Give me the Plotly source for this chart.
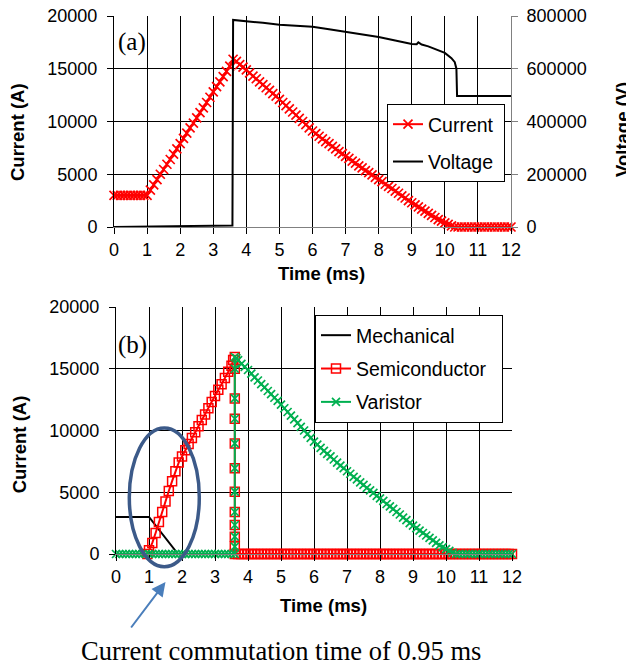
import plotly.graph_objects as go

# ---------------- data ----------------
# (a) total current, time in ms
time_ms = [
    0.0, 0.1, 0.2, 0.3, 0.4, 0.5, 0.6, 0.7, 0.8, 0.9,
    1.0, 1.1, 1.2, 1.3, 1.4, 1.5, 1.6, 1.7, 1.8, 1.9,
    2.0, 2.1, 2.2, 2.3, 2.4, 2.5, 2.6, 2.7, 2.8, 2.9,
    3.0, 3.1, 3.2, 3.3, 3.4, 3.5, 3.6, 3.7, 3.8, 3.9,
    4.0, 4.1, 4.2, 4.3, 4.4, 4.5, 4.6, 4.7, 4.8, 4.9,
    5.0, 5.1, 5.2, 5.3, 5.4, 5.5, 5.6, 5.7, 5.8, 5.9,
    6.0, 6.1, 6.2, 6.3, 6.4, 6.5, 6.6, 6.7, 6.8, 6.9,
    7.0, 7.1, 7.2, 7.3, 7.4, 7.5, 7.6, 7.7, 7.8, 7.9,
    8.0, 8.1, 8.2, 8.3, 8.4, 8.5, 8.6, 8.7, 8.8, 8.9,
    9.0, 9.1, 9.2, 9.3, 9.4, 9.5, 9.6, 9.7, 9.8, 9.9,
    10.0, 10.1, 10.2, 10.3, 10.4, 10.5, 10.6, 10.7, 10.8, 10.9,
    11.0, 11.1, 11.2, 11.3, 11.4, 11.5, 11.6, 11.7, 11.8, 11.9,
    12.0,
]
current_a = [
    3000, 3000, 3000, 3000, 3000, 3000, 3000, 3000, 3000, 3000,
    3000, 3500, 4000, 4500, 5000, 5450, 5950, 6400, 6900, 7400,
    7900, 8400, 8900, 9400, 9850, 10350, 10850, 11300, 11800, 12300,
    12800, 13300, 13750, 14250, 14750, 15250, 15900, 15700, 15400, 15150,
    14900, 14600, 14300, 14050, 13750, 13500, 13200, 12950, 12650, 12400,
    12100, 11800, 11500, 11200, 10900, 10600, 10300, 10000, 9700, 9400,
    9100, 8850, 8600, 8350, 8100, 7900, 7650, 7400, 7150, 6950,
    6700, 6500, 6250, 6050, 5800, 5600, 5350, 5150, 4950, 4700,
    4500, 4300, 4050, 3850, 3650, 3400, 3200, 2950, 2750, 2500,
    2300, 2100, 1900, 1700, 1500, 1300, 1100, 900, 700, 550,
    400, 250, 100, 0, 0, 0, 0, 0, 0, 0,
    0, 0, 0, 0, 0, 0, 0, 0, 0, 0,
    0,
]

# (a) voltage
voltage_time = [0.0, 1.0, 2.0, 3.0, 3.58, 3.6, 4.0, 4.5, 5.0, 5.5, 6.0, 6.5, 7.0,
                7.5, 8.0, 8.5, 9.0, 9.15, 9.2, 9.3, 9.5, 10.0, 10.2, 10.3, 10.35,
                10.37, 12.0]
voltage_v = [0, 1500, 4000, 5000, 6000, 785000, 779000, 774000, 767000, 764000,
             759000, 750000, 740000, 731000, 720000, 707000, 694000, 693000,
             700000, 692000, 685000, 660000, 640000, 625000, 600000, 497000,
             497000]

# (b) mechanical switch current
mech_time = [0.0, 1.0, 1.88, 12.0]
mech_current = [3000, 3000, 0, 0]

# (b) semiconductor current
semi_time = [
    0.95, 1.0, 1.1, 1.2, 1.3, 1.4, 1.5, 1.6, 1.7, 1.8, 1.9,
    2.0, 2.1, 2.2, 2.3, 2.4, 2.5, 2.6, 2.7, 2.8, 2.9,
    3.0, 3.1, 3.2, 3.3, 3.4, 3.5, 3.55,
    3.6, 3.6, 3.6, 3.6, 3.6, 3.6, 3.6, 3.6, 3.6, 3.6, 3.6, 3.6,
    3.7, 3.8, 3.9,
    4.0, 4.1, 4.2, 4.3, 4.4, 4.5, 4.6, 4.7, 4.8, 4.9,
    5.0, 5.1, 5.2, 5.3, 5.4, 5.5, 5.6, 5.7, 5.8, 5.9,
    6.0, 6.1, 6.2, 6.3, 6.4, 6.5, 6.6, 6.7, 6.8, 6.9,
    7.0, 7.1, 7.2, 7.3, 7.4, 7.5, 7.6, 7.7, 7.8, 7.9,
    8.0, 8.1, 8.2, 8.3, 8.4, 8.5, 8.6, 8.7, 8.8, 8.9,
    9.0, 9.1, 9.2, 9.3, 9.4, 9.5, 9.6, 9.7, 9.8, 9.9,
    10.0, 10.1, 10.2, 10.3, 10.4, 10.5, 10.6, 10.7, 10.8, 10.9,
    11.0, 11.1, 11.2, 11.3, 11.4, 11.5, 11.6, 11.7, 11.8, 11.9,
    12.0,
]
semi_current = [
    0, 300, 900, 1700, 2600, 3400, 4250, 5100, 5900, 6700, 7400,
    7900, 8400, 8900, 9400, 9850, 10350, 10850, 11300, 11800, 12300,
    12800, 13300, 13750, 14250, 14750, 15250, 15700,
    15950, 15000, 12600, 10950, 8950, 6950, 5050, 3400, 2350, 1400, 600, 0,
    0, 0, 0,
    0, 0, 0, 0, 0, 0, 0, 0, 0, 0,
    0, 0, 0, 0, 0, 0, 0, 0, 0, 0,
    0, 0, 0, 0, 0, 0, 0, 0, 0, 0,
    0, 0, 0, 0, 0, 0, 0, 0, 0, 0,
    0, 0, 0, 0, 0, 0, 0, 0, 0, 0,
    0, 0, 0, 0, 0, 0, 0, 0, 0, 0,
    0, 0, 0, 0, 0, 0, 0, 0, 0, 0,
    0, 0, 0, 0, 0, 0, 0, 0, 0, 0,
    0,
]

# (b) varistor current
var_time = [
    0.0, 0.1, 0.2, 0.3, 0.4, 0.5, 0.6, 0.7, 0.8, 0.9,
    1.0, 1.1, 1.2, 1.3, 1.4, 1.5, 1.6, 1.7, 1.8, 1.9,
    2.0, 2.1, 2.2, 2.3, 2.4, 2.5, 2.6, 2.7, 2.8, 2.9,
    3.0, 3.1, 3.2, 3.3, 3.4, 3.5,
    3.6, 3.6, 3.6, 3.6, 3.6, 3.6, 3.6, 3.6, 3.6, 3.6, 3.6, 3.6,
    3.65, 3.7, 3.8, 3.9,
    4.0, 4.1, 4.2, 4.3, 4.4, 4.5, 4.6, 4.7, 4.8, 4.9,
    5.0, 5.1, 5.2, 5.3, 5.4, 5.5, 5.6, 5.7, 5.8, 5.9,
    6.0, 6.1, 6.2, 6.3, 6.4, 6.5, 6.6, 6.7, 6.8, 6.9,
    7.0, 7.1, 7.2, 7.3, 7.4, 7.5, 7.6, 7.7, 7.8, 7.9,
    8.0, 8.1, 8.2, 8.3, 8.4, 8.5, 8.6, 8.7, 8.8, 8.9,
    9.0, 9.1, 9.2, 9.3, 9.4, 9.5, 9.6, 9.7, 9.8, 9.9,
    10.0, 10.1, 10.2, 10.3, 10.4, 10.5, 10.6, 10.7, 10.8, 10.9,
    11.0, 11.1, 11.2, 11.3, 11.4, 11.5, 11.6, 11.7, 11.8, 11.9,
    12.0,
]
var_current = [
    0, 0, 0, 0, 0, 0, 0, 0, 0, 0,
    0, 0, 0, 0, 0, 0, 0, 0, 0, 0,
    0, 0, 0, 0, 0, 0, 0, 0, 0, 0,
    0, 0, 0, 0, 0, 0,
    0, 600, 1400, 2350, 3400, 5050, 6950, 8950, 10950, 12600, 15000, 15950,
    15850, 15700, 15400, 15150,
    14900, 14600, 14300, 14050, 13750, 13500, 13200, 12950, 12650, 12400,
    12100, 11800, 11500, 11200, 10900, 10600, 10300, 10000, 9700, 9400,
    9100, 8850, 8600, 8350, 8100, 7900, 7650, 7400, 7150, 6950,
    6700, 6500, 6250, 6050, 5800, 5600, 5350, 5150, 4950, 4700,
    4500, 4300, 4050, 3850, 3650, 3400, 3200, 2950, 2750, 2500,
    2300, 2100, 1900, 1700, 1500, 1300, 1100, 900, 700, 550,
    400, 250, 100, 0, 0, 0, 0, 0, 0, 0,
    0, 0, 0, 0, 0, 0, 0, 0, 0, 0,
    0,
]

x_ticks = [0, 1, 2, 3, 4, 5, 6, 7, 8, 9, 10, 11, 12]

# ---------------- style ----------------
SANS = "Liberation Sans, Arial, sans-serif"
SERIF = "Liberation Serif, Times New Roman, serif"
RED = "#FF0000"
GREEN = "#00B050"
NB = "\u00a0"                # padding inside the legend boxes
OFF = 8                      # page body margin that shifts the figure
W, H = 634 - OFF, 669 - OFF
ML, MT = 114 - OFF, 16 - OFF
MR = W - (512 - OFF)
MB = H - (554 - OFF)
PW, PH = W - ML - MR, H - MT - MB


def px_x(p):
    """screen x (reference pixels) -> paper fraction"""
    return (p - OFF - ML) / PW


def px_y(p):
    """screen y (reference pixels) -> paper fraction"""
    return (H - MB - (p - OFF)) / PH


fig = go.Figure()

fig.add_trace(go.Scatter(
    x=time_ms, y=current_a, name="Current" + NB, mode="lines+markers",
    line=dict(color=RED, width=2),
    marker=dict(symbol="x-thin", size=9, line=dict(color=RED, width=1.7)),
    xaxis="x", yaxis="y", legend="legend", legendgroup="a1", cliponaxis=False))
fig.add_trace(go.Scatter(
    x=voltage_time, y=voltage_v, name="Voltage" + NB, mode="lines",
    line=dict(color="black", width=2),
    xaxis="x", yaxis="y2", legend="legend", legendgroup="a2", cliponaxis=False))

fig.add_trace(go.Scatter(
    x=mech_time, y=mech_current, name="Mechanical", mode="lines",
    line=dict(color="black", width=2),
    xaxis="x3", yaxis="y3", legend="legend2", legendgroup="b1", cliponaxis=False))
fig.add_trace(go.Scatter(
    x=semi_time, y=semi_current, name="Semiconductor" + NB + NB, mode="lines+markers",
    line=dict(color=RED, width=2),
    marker=dict(symbol="square-open", size=9, color=RED, line=dict(color=RED, width=1.5)),
    xaxis="x3", yaxis="y3", legend="legend2", legendgroup="b2", cliponaxis=False))
fig.add_trace(go.Scatter(
    x=var_time, y=var_current, name="Varistor", mode="lines+markers",
    line=dict(color=GREEN, width=2),
    marker=dict(symbol="x-thin", size=8, line=dict(color=GREEN, width=1.7)),
    xaxis="x3", yaxis="y3", legend="legend2", legendgroup="b3", cliponaxis=False))

tickfont = dict(family=SANS, size=18, color="black")
common_x = dict(range=[0, 12], tickvals=x_ticks, showgrid=True, gridcolor="black",
                gridwidth=1, ticks="outside", ticklen=6, tickcolor="black",
                showline=True, linecolor="#808080", linewidth=1, zeroline=False,
                tickfont=tickfont, fixedrange=True, automargin=False,
                ticklabeloverflow="allow")
common_y = dict(range=[0, 20000], dtick=5000, tickformat="d", showgrid=True,
                gridcolor="black", gridwidth=1, ticks="outside", ticklen=6,
                tickcolor="black", showline=True, linecolor="black", linewidth=1,
                zeroline=False, tickfont=tickfont, fixedrange=True,
                automargin=False, ticklabelstandoff=6, ticklabeloverflow="allow")

top_dom = [px_y(227), 1.0]
bot_dom = [0.0, px_y(307)]

fig.update_layout(
    width=W, height=H, autosize=False,
    margin=dict(l=ML, r=MR, t=MT, b=MB, pad=0, autoexpand=False),
    paper_bgcolor="white", plot_bgcolor="white",
    font=dict(family=SANS, color="black"),
    xaxis=dict(common_x, domain=[0, px_x(511)], anchor="y"),
    yaxis=dict(common_y, domain=top_dom, anchor="x"),
    yaxis2=dict(range=[0, 800000], dtick=200000, tickformat="d", overlaying="y",
                side="right", anchor="x", showgrid=False, ticks="outside", ticklen=6,
                tickcolor="#808080", showline=True, linecolor="#808080",
                zeroline=False, tickfont=tickfont, fixedrange=True,
                automargin=False, ticklabelstandoff=5, ticklabeloverflow="allow"),
    xaxis3=dict(common_x, domain=[px_x(116), 1.0], anchor="y3"),
    yaxis3=dict(common_y, domain=bot_dom, anchor="x3"),
    legend=dict(x=px_x(387), y=px_y(104), xanchor="left", yanchor="top",
                bgcolor="white", bordercolor="black", borderwidth=1,
                font=dict(family=SANS, size=19.5, color="black"),
                traceorder="grouped", tracegroupgap=9),
    legend2=dict(x=px_x(315), y=px_y(315), xanchor="left", yanchor="top",
                 bgcolor="white", bordercolor="black", borderwidth=1,
                 font=dict(family=SANS, size=19.5, color="black"),
                 traceorder="grouped", tracegroupgap=5),
    showlegend=True,
)

title_font = dict(family=SANS, size=18.5, color="black")
annotations = [
    dict(text="<b>Time (ms)</b>", x=px_x(321.7), y=px_y(273), font=title_font),
    dict(text="<b>Time (ms)</b>", x=px_x(323.3), y=px_y(605), font=title_font),
    dict(text="<b>Current (A)</b>", x=px_x(17.5), y=px_y(132.5), font=title_font,
         textangle=-90),
    dict(text="<b>Voltage (V)</b>", x=px_x(622), y=px_y(130), font=title_font,
         textangle=-90),
    dict(text="<b>Current (A)</b>", x=px_x(19.3), y=px_y(444), font=title_font,
         textangle=-90),
    dict(text="(a)", x=px_x(115.5), y=px_y(42), xanchor="left",
         font=dict(family=SERIF, size=25, color="black")),
    dict(text="(b)", x=px_x(115.5), y=px_y(345), xanchor="left",
         font=dict(family=SERIF, size=25, color="black")),
    dict(text="Current commutation time of 0.95 ms", x=px_x(281.2), y=px_y(651),
         font=dict(family=SERIF, size=26.5, color="black")),
]
for a in annotations:
    a.setdefault("xanchor", "center")
    a.setdefault("yanchor", "middle")
    fig.add_annotation(xref="paper", yref="paper", showarrow=False, **a)

fig.add_annotation(xref="paper", yref="paper", x=px_x(165.5), y=px_y(582),
                   ax=-35.5, ay=47, text="", showarrow=True, arrowhead=2,
                   arrowsize=1.4, arrowwidth=2, arrowcolor="#4A7EBB", standoff=0)

fig.add_shape(type="circle", xref="paper", yref="paper",
              x0=px_x(129.3), x1=px_x(199.3), y0=px_y(566.7), y1=px_y(428),
              line=dict(color="#3C5A89", width=3.5))

fig.write_html("out.html")
